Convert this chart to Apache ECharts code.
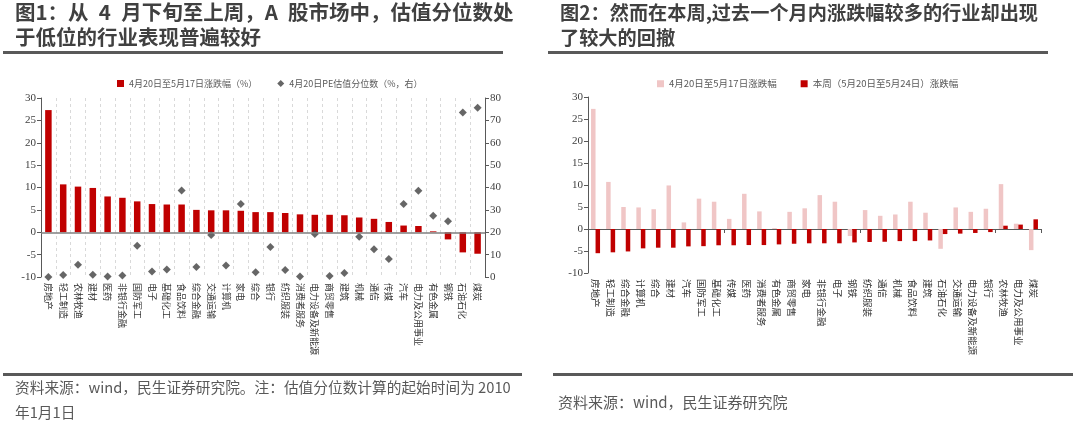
<!DOCTYPE html>
<html>
<head>
<meta charset="utf-8">
<script src="https://cdn.jsdelivr.net/npm/echarts@6/dist/echarts.min.js"></script>
<style>
html,body{margin:0;padding:0;background:#fff;}
#main{width:1080px;height:427px;}
</style>
</head>
<body>
<div id="main"></div>
<script>
// ---- Panel 1 data ----
const cats1 = ['房地产','轻工制造','农林牧渔','建材','医药','非银行金融','国防军工','电子','基础化工','食品饮料','综合金融','交通运输','计算机','家电','综合','银行','纺织服装','消费者服务','电力设备及新能源','商贸零售','建筑','机械','通信','传媒','汽车','电力及公用事业','有色金属','钢铁','石油石化','煤炭'];
const chg1 = [27.3,10.7,10.2,9.9,8.0,7.7,6.9,6.3,6.2,6.2,5.0,4.9,4.9,4.8,4.5,4.5,4.3,4.0,3.9,3.9,3.8,3.3,3.0,2.3,1.5,1.4,0.2,-1.6,-4.5,-4.8];
const pe1 = [0,0.9,5.5,1.0,0.2,0.7,14.0,2.5,3.4,38.7,4.5,18.8,5.1,32.6,2.1,13.4,3.1,0.2,19.2,0.5,1.8,18.0,12.4,8.0,32.6,38.6,27.4,24.9,73.5,75.6];
const leftTicks1 = {min:-10, max:30, interval:5};
const rightTicks1 = {min:0, max:80, interval:10};

// ---- Panel 2 data ----
const cats2 = ['房地产','轻工制造','综合金融','计算机','综合','建材','汽车','国防军工','基础化工','传媒','医药','消费者服务','有色金属','商贸零售','家电','非银行金融','电子','钢铁','纺织服装','通信','机械','食品饮料','建筑','石油石化','交通运输','电力设备及新能源','银行','农林牧渔','电力及公用事业','煤炭'];
const prev2 = [27.3,10.7,5.0,4.9,4.5,9.9,1.5,6.9,6.2,2.3,8.0,4.0,0.2,3.9,4.7,7.7,6.2,-1.6,4.3,3.0,3.3,6.2,3.7,-4.5,4.9,3.9,4.6,10.2,1.2,-4.8];
const week2 = [-5.5,-5.3,-5.1,-4.4,-4.25,-4.25,-3.95,-3.9,-3.7,-3.7,-3.65,-3.65,-3.5,-3.35,-3.25,-3.25,-3.25,-3.05,-2.95,-2.9,-2.75,-2.75,-2.6,-1.15,-1.05,-0.9,-0.7,0.75,1.0,2.2];
const leftTicks2 = {min:-10, max:30, interval:5};

// ---- Text ----
const title1 = '图1：从\u20024\u2002月下旬至上周，A\u2002股市场中，估值分位数处\n于低位的行业表现普遍较好';
const title2 = '图2：然而在本周,过去一个月内涨跌幅较多的行业却出现\n了较大的回撤';
const legend1 = ['4月20日至5月17日涨跌幅（%）','4月20日PE估值分位数（%，右）'];
const legend2 = ['4月20日至5月17日涨跌幅','本周（5月20日至5月24日）涨跌幅'];
const source1a = '资料来源：wind，民生证券研究院。注：估值分位数计算的起始时间为 2010';
const source1b = '年1月1日';
const source2 = '资料来源：wind，民生证券研究院';

const CJK = '"Noto Sans CJK SC", "Noto Sans", sans-serif';
const SERIF = '"Liberation Serif", "DejaVu Serif", serif';
const DARK = '#c00000';
const PINK = '#f0c6c6';

const chart = echarts.init(document.getElementById('main'), null, {renderer:'canvas'});

function valueAxis(grid, t, pos){
  return {
    type:'value', gridIndex:grid, position:pos, min:t.min, max:t.max, interval:t.interval,
    axisLine:{show:true, lineStyle:{color:'#595959', width:1}},
    axisTick:{show:true, length:4, lineStyle:{color:'#595959'}},
    splitLine:{show:false},
    axisLabel:{color:'#404040', fontFamily:SERIF, fontSize:11, margin:5}
  };
}
function catLabelAxis(grid, data, split, fs){
  return {
    type:'category', gridIndex:grid, data:data, position:'bottom',
    axisLine:{show:false, onZero:false},
    axisTick:{show:false},
    splitLine:{show:split, interval:0, lineStyle:{color:'#d9d9d9', type:[3,3], width:1}},
    axisLabel:{rotate:-90, interval:0, color:'#333', fontFamily:CJK, fontSize:fs, margin:6}
  };
}

const option = {
  animation:false,
  backgroundColor:'#fff',
  textStyle:{fontFamily:CJK},
  title:[
    {text:title1, left:15, top:0, padding:0, textStyle:{fontFamily:CJK, fontWeight:'bold', fontSize:20.5, lineHeight:25, color:'#404040'}},
    {text:title2, left:560, top:0, padding:0, textStyle:{fontFamily:CJK, fontWeight:'bold', fontSize:19.2, lineHeight:25, color:'#404040'}}
  ],
  legend:[
    {data:[{name:legend1[0], icon:'rect'},{name:legend1[1], icon:'diamond'}], left:112, top:74, itemWidth:7, itemHeight:7, itemGap:20,
     textStyle:{fontSize:9, color:'#595959', fontFamily:CJK}},
    {data:[{name:legend2[0], icon:'rect'},{name:legend2[1], icon:'rect'}], left:652, top:74, itemWidth:7, itemHeight:7, itemGap:24,
     textStyle:{fontSize:9.5, color:'#595959', fontFamily:CJK}}
  ],
  grid:[
    {left:41, top:98, width:444, height:179},
    {left:588, top:97, width:453, height:176}
  ],
  xAxis:[
    catLabelAxis(0, cats1, true, 9),
    catLabelAxis(1, cats2, false, 9.5),
    {type:'category', gridIndex:1, data:cats2, position:'bottom',
     axisLine:{show:true, onZero:true, lineStyle:{color:'#595959', width:1.2}},
     axisTick:{show:true, length:4, lineStyle:{color:'#595959'}},
     axisLabel:{show:false}, splitLine:{show:false}}
  ],
  yAxis:[
    valueAxis(0, leftTicks1, 'left'),
    valueAxis(0, rightTicks1, 'right'),
    valueAxis(1, leftTicks2, 'left')
  ],
  series:[
    {name:legend1[0], type:'bar', xAxisIndex:0, yAxisIndex:0, data:chg1, barWidth:6.5,
     itemStyle:{color:DARK},
     markLine:{silent:true, symbol:'none', label:{show:false}, lineStyle:{color:'#7f7f7f', width:1.5, type:'solid'}, data:[{yAxis:0}]}},
    {name:legend1[1], type:'scatter', xAxisIndex:0, yAxisIndex:1, data:pe1, symbol:'diamond', symbolSize:8,
     itemStyle:{color:'#404040'}},
    {name:legend2[0], type:'bar', xAxisIndex:1, yAxisIndex:2, data:prev2, barWidth:4.5, barGap:'0%',
     itemStyle:{color:PINK}},
    {name:legend2[1], type:'bar', xAxisIndex:1, yAxisIndex:2, data:week2, barWidth:4.5, barGap:'0%',
     itemStyle:{color:DARK}}
  ],
  graphic:[
    {type:'rect', shape:{x:3, y:51, width:500, height:3}, style:{fill:'#595959'}},
    {type:'rect', shape:{x:548, y:51, width:500, height:3}, style:{fill:'#595959'}},
    {type:'rect', shape:{x:3, y:373, width:519, height:3}, style:{fill:'#595959'}},
    {type:'rect', shape:{x:553, y:373, width:520, height:3}, style:{fill:'#595959'}},
    {type:'text', left:15, top:380, style:{text:source1a, fill:'#595959', font:'14.7px ' + CJK}},
    {type:'text', left:15, top:405, style:{text:source1b, fill:'#595959', font:'14.7px ' + CJK}},
    {type:'text', left:558, top:395, style:{text:source2, fill:'#595959', font:'15px ' + CJK}}
  ]
};
chart.setOption(option);
</script>
</body>
</html>
